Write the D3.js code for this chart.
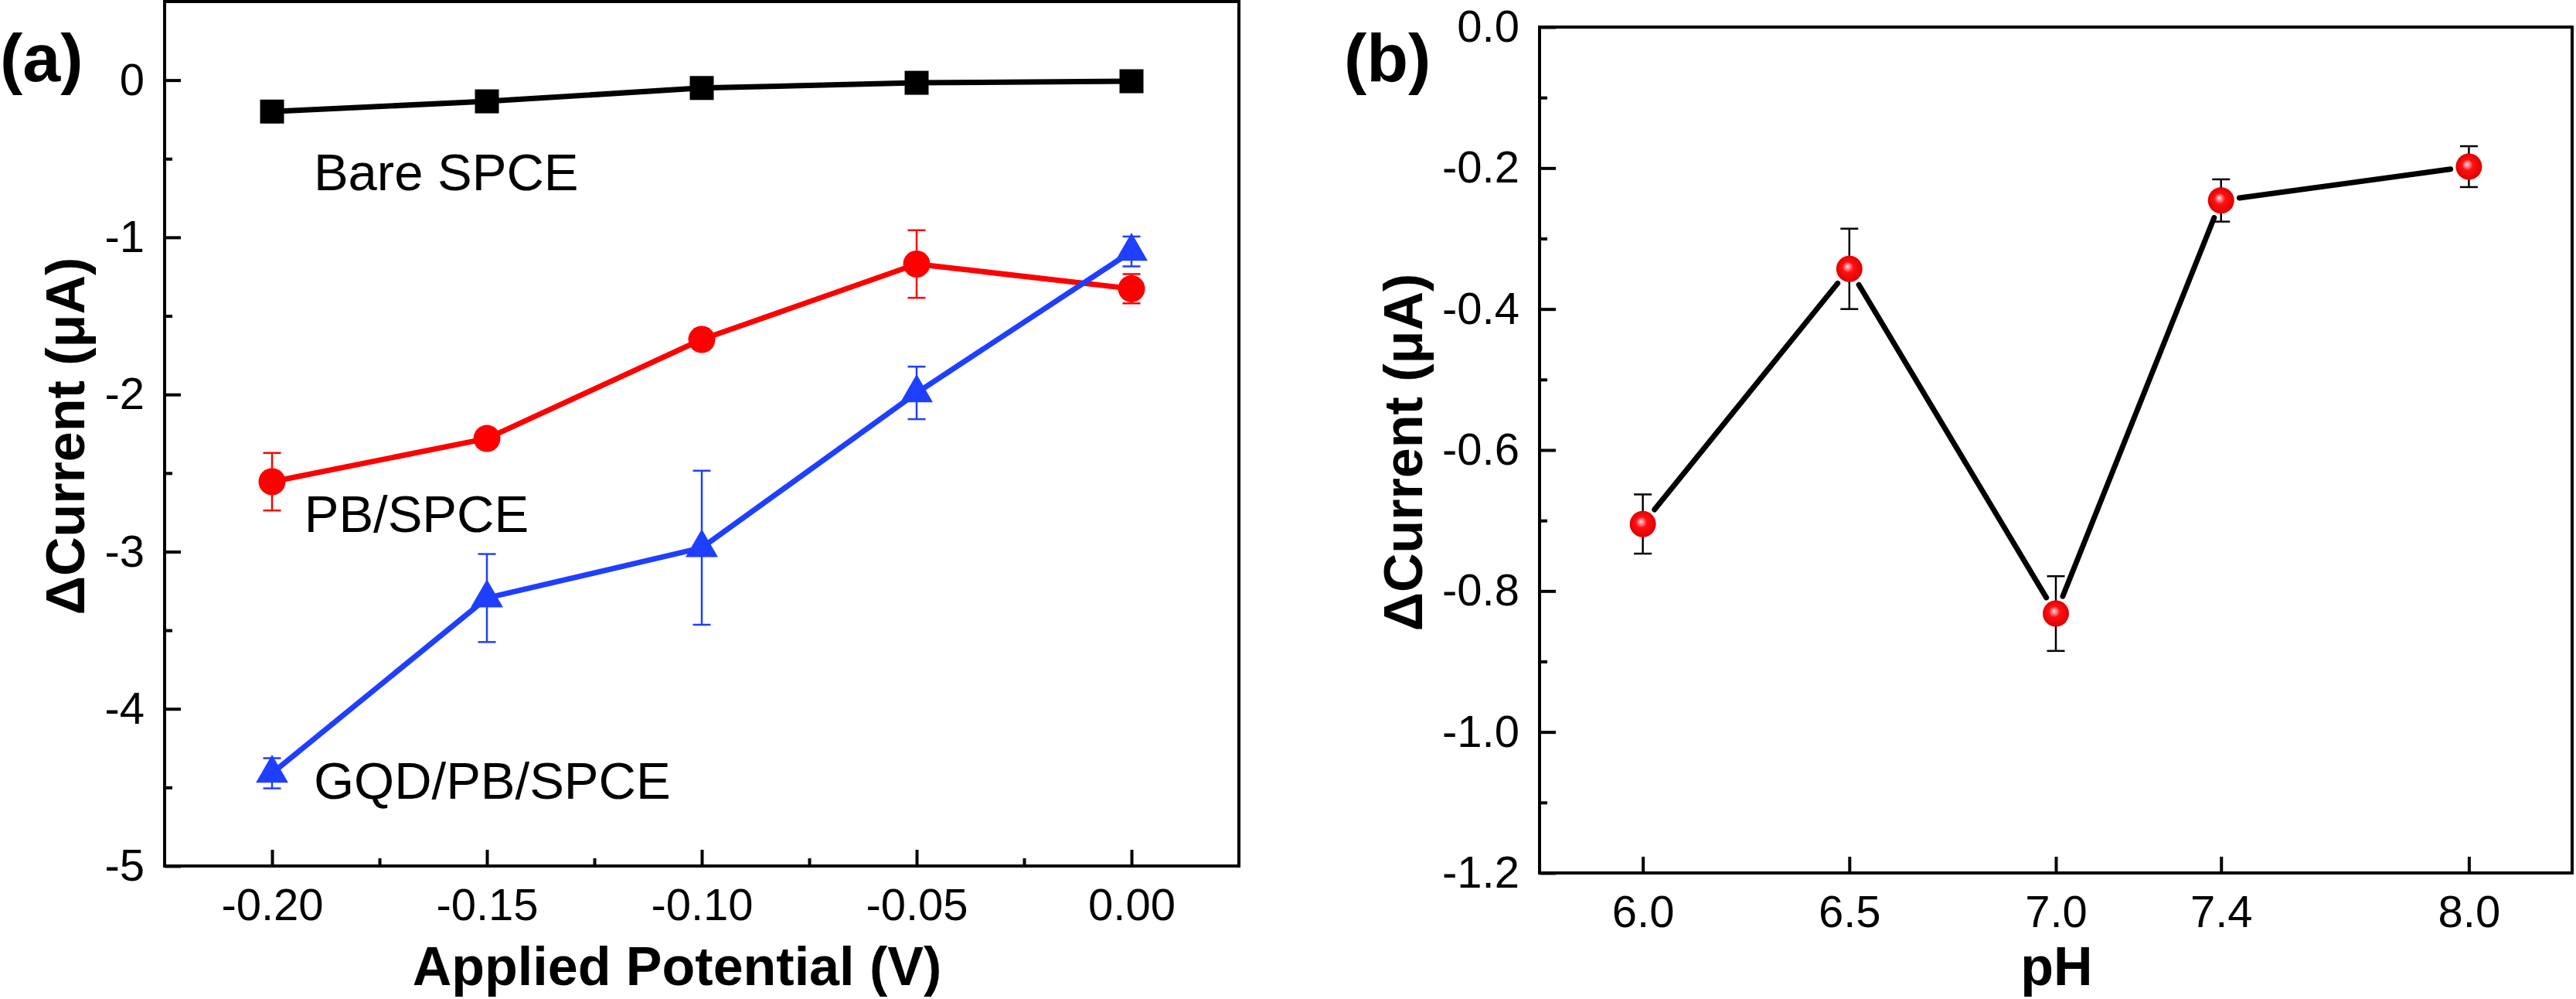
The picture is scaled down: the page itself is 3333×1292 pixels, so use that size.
<!DOCTYPE html>
<html>
<head>
<meta charset="utf-8">
<script src="https://cdn.jsdelivr.net/npm/d3@7"></script>
<style>
  html, body { margin: 0; padding: 0; background: #fff; }
  svg { display: block; }
  text { font-family: "Liberation Sans", Arial, Helvetica, sans-serif; fill: #000; }
</style>
</head>
<body>
<svg id="chart" width="3333" height="1292"></svg>
<script>
// ---------------- DATA ----------------
// Panel (a)
const potentials = [-0.20, -0.15, -0.10, -0.05, 0.00];
const bareSPCE = [-0.20, -0.135, -0.05, -0.017, -0.007];
const pbSPCE = [-2.555, -2.28, -1.65, -1.17, -1.327];
const pbSPCEErr = [0.183, 0.04, 0.04, 0.215, 0.093];
const gqdPbSPCE = [-4.41, -3.295, -2.975, -1.99, -1.09];
const gqdPbSPCEErr = [0.096, 0.28, 0.49, 0.167, 0.095];
const seriesNamesA = ["Bare SPCE", "PB/SPCE", "GQD/PB/SPCE"];
const xTicksA = [-0.20, -0.15, -0.10, -0.05, 0.00];
const xTickLabelsA = ["-0.20", "-0.15", "-0.10", "-0.05", "0.00"];
const yTicksA = [0, -1, -2, -3, -4, -5];
const yTickLabelsA = ["0", "-1", "-2", "-3", "-4", "-5"];
// Panel (b)
const pHValues = [6.0, 6.5, 7.0, 7.4, 8.0];
const pHCurrent = [-0.705, -0.343, -0.832, -0.246, -0.198];
const pHCurrentErr = [0.042, 0.057, 0.053, 0.030, 0.029];
const xTicksB = [6.0, 6.5, 7.0, 7.4, 8.0];
const xTickLabelsB = ["6.0", "6.5", "7.0", "7.4", "8.0"];
const yTicksB = [0.0, -0.2, -0.4, -0.6, -0.8, -1.0, -1.2];
const yTickLabelsB = ["0.0", "-0.2", "-0.4", "-0.6", "-0.8", "-1.0", "-1.2"];

// ---------------- LAYOUT ----------------
const svg = d3.select("#chart");
const RED = "#ff0000", BLUE = "#1f3fff", BLACK = "#000000";
const tickFont = 58, titleFont = 70, labelFont = 67, panelFont = 88;

const defs = svg.append("defs");
const grad = defs.append("radialGradient").attr("id", "sphere")
  .attr("cx", "50%").attr("cy", "50%").attr("r", "55%")
  .attr("fx", "42%").attr("fy", "40%");
grad.append("stop").attr("offset", "0%").attr("stop-color", "#ffffff");
grad.append("stop").attr("offset", "12%").attr("stop-color", "#ff9aa8");
grad.append("stop").attr("offset", "38%").attr("stop-color", "#ff1010");
grad.append("stop").attr("offset", "100%").attr("stop-color", "#d80000");

function drawAxes(g, x, y, xt, xl, yt, yl, xMinor, yMinor, w, h) {
  const fmtX = d => xl[xt.indexOf(d)];
  const fmtY = d => yl[yt.indexOf(d)];
  const ax = g.append("g").attr("transform", `translate(0,${h})`)
    .call(d3.axisBottom(x).tickValues(xt).tickFormat(fmtX).tickSizeInner(-21).tickSizeOuter(0).tickPadding(29));
  const ay = g.append("g")
    .call(d3.axisLeft(y).tickValues(yt).tickFormat(fmtY).tickSizeInner(-21).tickSizeOuter(0).tickPadding(26));
  [ax, ay].forEach(a => {
    a.select(".domain").remove();
    a.selectAll("line").attr("stroke", BLACK).attr("stroke-width", 4);
    a.selectAll("text").style("font-size", tickFont + "px")
      .style("font-family", '"Liberation Sans", Arial, sans-serif').attr("fill", BLACK);
  });
  if (xMinor.length) {
    const mx = g.append("g").attr("transform", `translate(0,${h})`)
      .call(d3.axisBottom(x).tickValues(xMinor).tickFormat("").tickSizeInner(-10).tickSizeOuter(0));
    mx.select(".domain").remove();
    mx.selectAll("line").attr("stroke", BLACK).attr("stroke-width", 4);
  }
  if (yMinor.length) {
    const my = g.append("g")
      .call(d3.axisLeft(y).tickValues(yMinor).tickFormat("").tickSizeInner(-10).tickSizeOuter(0));
    my.select(".domain").remove();
    my.selectAll("line").attr("stroke", BLACK).attr("stroke-width", 4);
  }
  g.append("rect").attr("x", 0).attr("y", 0).attr("width", w).attr("height", h)
    .attr("fill", "none").attr("stroke", BLACK).attr("stroke-width", 4);
}

function errorBars(g, x, y, xs, ys, es, color) {
  const cap = 11.5;
  xs.forEach((xv, i) => {
    if (!es[i]) return;
    const cx = x(xv), y1 = y(ys[i] + es[i]), y2 = y(ys[i] - es[i]);
    g.append("line").attr("x1", cx).attr("x2", cx).attr("y1", y1).attr("y2", y2)
      .attr("stroke", color).attr("stroke-width", 2.5);
    [y1, y2].forEach(yy => g.append("line").attr("x1", cx - cap).attr("x2", cx + cap)
      .attr("y1", yy).attr("y2", yy).attr("stroke", color).attr("stroke-width", 2.5));
  });
}

// ---------------- PANEL (a) ----------------
{
  const left = 213, top = 2, w = 1390, h = 1118;
  const g = svg.append("g").attr("transform", `translate(${left},${top})`);
  const x = d3.scaleLinear().domain([-0.225, 0.025]).range([0, w]);
  const y = d3.scaleLinear().domain([-5, 0.5]).range([h, 0]);
  drawAxes(g, x, y, xTicksA, xTickLabelsA, yTicksA, yTickLabelsA,
    [-0.175, -0.125, -0.075, -0.025], [-0.5, -1.5, -2.5, -3.5, -4.5], w, h);

  const line = d3.line().x(d => x(d[0])).y(d => y(d[1]));
  const series = [
    { vals: bareSPCE, err: null, color: BLACK, sym: d3.symbolSquare, size: 961 },
    { vals: pbSPCE, err: pbSPCEErr, color: RED, sym: d3.symbolCircle, size: Math.PI * 17.5 * 17.5 },
    { vals: gqdPbSPCE, err: gqdPbSPCEErr, color: BLUE, sym: d3.symbolTriangle, size: 760 }
  ];
  series.forEach(s => {
    const pts = potentials.map((p, i) => [p, s.vals[i]]);
    if (s.err) errorBars(g, x, y, potentials, s.vals, s.err, s.color);
    g.append("path").attr("d", line(pts)).attr("fill", "none")
      .attr("stroke", s.color).attr("stroke-width", 7).attr("stroke-linejoin", "round");
    g.selectAll(null).data(pts).enter().append("path")
      .attr("transform", d => `translate(${x(d[0])},${y(d[1])})`)
      .attr("d", d3.symbol().type(s.sym).size(s.size)).attr("fill", s.color);
  });

  const labelPos = [[-0.1903, -0.70], [-0.1925, -2.875], [-0.1903, -4.57]];
  seriesNamesA.forEach((n, i) => {
    g.append("text").attr("x", x(labelPos[i][0])).attr("y", y(labelPos[i][1]))
      .style("font-size", labelFont + "px").text(n);
  });

  svg.append("text").attr("x", 876).attr("y", 1274).attr("text-anchor", "middle")
    .style("font-size", titleFont + "px").style("font-weight", "bold").text("Applied Potential (V)");
  svg.append("text").attr("transform", `translate(109,564) rotate(-90)`).attr("text-anchor", "middle")
    .style("font-size", titleFont + "px").style("font-weight", "bold").text("\u0394Current (\u03bcA)");
  svg.append("text").attr("x", 0).attr("y", 105)
    .style("font-size", panelFont + "px").style("font-weight", "bold").text("(a)");
}

// ---------------- PANEL (b) ----------------
{
  const left = 1992, top = 35, w = 1336, h = 1094;
  const g = svg.append("g").attr("transform", `translate(${left},${top})`);
  const x = d3.scaleLinear().domain([5.75, 8.25]).range([0, w]);
  const y = d3.scaleLinear().domain([-1.2, 0.0]).range([h, 0]);
  drawAxes(g, x, y, xTicksB, xTickLabelsB, yTicksB, yTickLabelsB,
    [], [-0.1, -0.3, -0.5, -0.7, -0.9, -1.1], w, h);

  const pts = pHValues.map((p, i) => [x(p), y(pHCurrent[i])]);
  const gap = 24;
  for (let i = 0; i < pts.length - 1; i++) {
    const [x1, y1] = pts[i], [x2, y2] = pts[i + 1];
    const len = Math.hypot(x2 - x1, y2 - y1);
    const ux = (x2 - x1) / len, uy = (y2 - y1) / len;
    g.append("line").attr("x1", x1 + ux * gap).attr("y1", y1 + uy * gap)
      .attr("x2", x2 - ux * gap).attr("y2", y2 - uy * gap)
      .attr("stroke", BLACK).attr("stroke-width", 7).attr("stroke-linecap", "round");
  }
  errorBars(g, x, y, pHValues, pHCurrent, pHCurrentErr, BLACK);
  g.selectAll(null).data(pts).enter().append("circle")
    .attr("cx", d => d[0]).attr("cy", d => d[1]).attr("r", 17)
    .attr("fill", "url(#sphere)");

  svg.append("text").attr("x", 2661).attr("y", 1274).attr("text-anchor", "middle")
    .style("font-size", titleFont + "px").style("font-weight", "bold").text("pH");
  svg.append("text").attr("transform", `translate(1840,585) rotate(-90)`).attr("text-anchor", "middle")
    .style("font-size", titleFont + "px").style("font-weight", "bold").text("\u0394Current (\u03bcA)");
  svg.append("text").attr("x", 1739).attr("y", 105)
    .style("font-size", panelFont + "px").style("font-weight", "bold").text("(b)");
}
</script>
</body>
</html>
